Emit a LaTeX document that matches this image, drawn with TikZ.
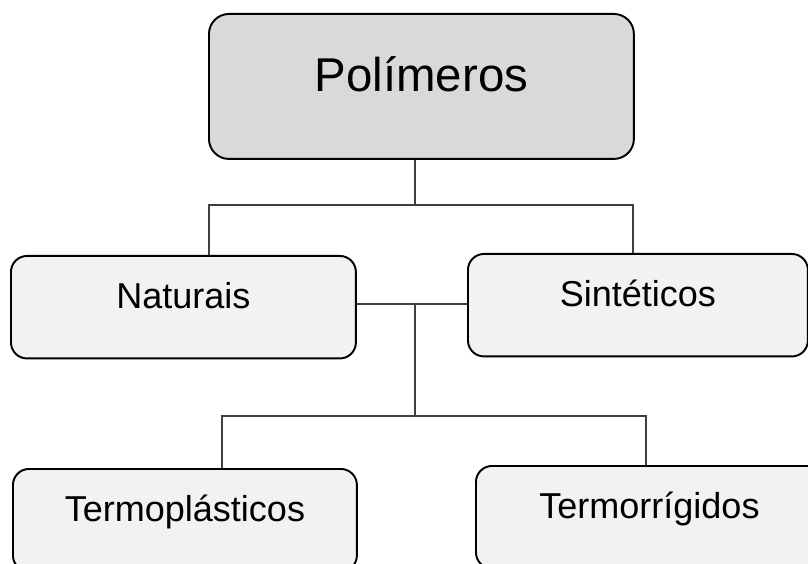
\documentclass[tikz,border=0pt]{standalone}
\usepackage{fontspec}
\setmainfont{Liberation Sans}
\usepackage{tikz}
\definecolor{rootgray}{HTML}{D9D9D9}
\definecolor{boxgray}{HTML}{F2F2F2}
\definecolor{linegray}{HTML}{404040}
\tikzstyle{rootbox}=[rectangle,rounded corners=0.4cm,draw=black,line width=1.1pt,
fill=rootgray,inner sep=0pt,anchor=north west,minimum width=8.5cm,
text height=1.56cm,text depth=1.34cm,font=\fontsize{27}{32}\selectfont]
\tikzstyle{classbox}=[rectangle,rounded corners=0.32cm,draw=black,line width=1.1pt,
fill=boxgray,inner sep=0pt,anchor=north west,
text height=1.05cm,text depth=1.0cm,font=\fontsize{20.5}{24}\selectfont]
\tikzstyle{link}=[draw=linegray,line width=0.6pt]

\begin{document}
\begin{tikzpicture}[x=0.02cm,y=-0.02cm]
            \useasboundingbox (0,0) rectangle (808,564);
            \clip (0,0) rectangle (808,564);

            % Root
            \node[rootbox] (poly) at (208,13) {Polímeros};

            % Origin PART
            \node[classbox,minimum width=6.9cm] (nat) at (10,255) {Naturais};
            \node[classbox,minimum width=6.8cm] (sint) at (467,253) {Sintéticos};

            % Behaviour PART
            \node[classbox,minimum width=6.88cm] (tplast) at (12,468) {Termoplásticos};
            \node[classbox,minimum width=6.94cm] (trig) at (475,465) {Termorrígidos};

            \coordinate (top) at (415,205);
            \coordinate (topL) at (209,205);
            \coordinate (topR) at (633,205);
            \coordinate (mid) at (415,304);
            \coordinate (low) at (415,416);
            \coordinate (lowL) at (222,416);
            \coordinate (lowR) at (646,416);

            \path[link] (top |- poly.south) -- (top);
            \path[link] (topL |- nat.north) -- (topL) -- (topR) -- (topR |- sint.north);

            \path[link] (nat.east |- mid) -- (sint.west |- mid);
            \path[link] (mid) -- (low);
            \path[link] (lowL |- tplast.north) -- (lowL) -- (lowR) -- (lowR |- trig.north);

\end{tikzpicture}
\end{document}
